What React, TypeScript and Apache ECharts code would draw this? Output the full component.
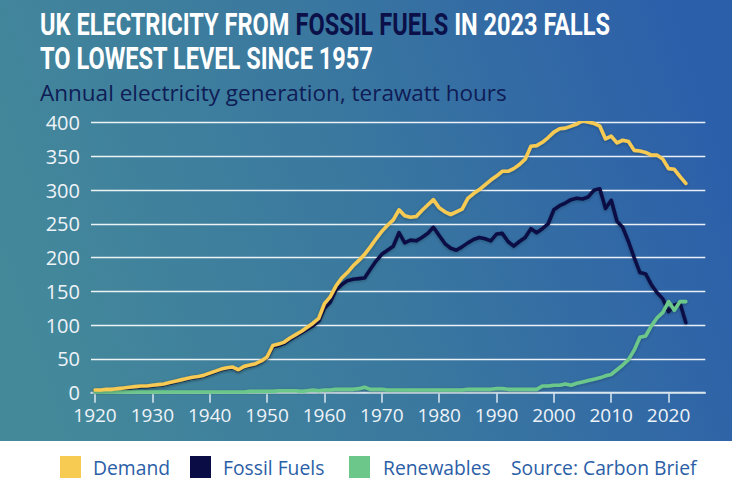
import React, { useEffect, useRef } from "react";
import * as echarts from "echarts";

// Annual UK electricity, TWh, one value per year starting in FIRST_YEAR
const FIRST_YEAR = 1920;

const demand = [
  4, 4, 5, 5, 6, 7, 8, 9, 10, 10, // 1920s
  11, 12, 13, 15, 17, 19, 21, 23, 24, 26, // 1930s
  29, 32, 35, 37, 38, 34, 39, 41, 43, 47, // 1940s
  53, 70, 72, 75, 81, 86, 91, 97, 103, 110, // 1950s
  132, 142, 158, 170, 178, 188, 196, 205, 216, 228, // 1960s
  239, 248, 256, 271, 262, 260, 261, 270, 278, 286, // 1970s
  274, 268, 264, 268, 272, 288, 295, 301, 308, 315, // 1980s
  321, 328, 328, 332, 338, 346, 365, 366, 371, 378, // 1990s
  386, 391, 392, 395, 398, 403, 401, 399, 395, 376, // 2000s
  380, 370, 374, 372, 359, 358, 356, 352, 352, 346, // 2010s
  332, 331, 320, 310, // 2020s
];

const fossilFuels = [
  3, 3, 4, 4, 5, 6, 7, 8, 9, 9,
  10, 11, 12, 14, 16, 18, 20, 22, 23, 25,
  28, 31, 34, 36, 37, 33, 38, 40, 42, 46,
  52, 68, 70, 73, 79, 84, 89, 94, 99, 106,
  125, 134, 152, 160, 166, 168, 169, 170, 183, 195,
  205, 211, 217, 237, 222, 226, 225, 230, 236, 245,
  233, 221, 214, 211, 216, 222, 227, 230, 228, 225,
  235, 236, 224, 217, 224, 230, 243, 237, 243, 250,
  271, 277, 281, 286, 288, 287, 290, 300, 302, 273,
  285, 254, 245, 224, 200, 178, 176, 160, 148, 139,
  120, 130, 132, 104,
];

const renewables = [
  1, 1, 1, 1, 1, 1, 1, 1, 1, 1,
  1, 1, 1, 1, 1, 1, 1, 1, 1, 1,
  1, 1, 1, 1, 1, 1, 1, 2, 2, 2,
  2, 2, 3, 3, 3, 3, 2, 3, 4, 3,
  4, 4, 5, 5, 5, 5, 6, 8, 5, 5,
  5, 4, 4, 4, 4, 4, 4, 4, 4, 4,
  4, 4, 4, 4, 4, 5, 5, 5, 5, 5,
  6, 6, 5, 5, 5, 5, 5, 5, 10, 10,
  11, 11, 13, 11, 14, 16, 18, 20, 22, 25,
  27, 34, 41, 49, 63, 82, 84, 99, 111, 119,
  135, 122, 135, 135,
];

const xTickYears = [1920, 1930, 1940, 1950, 1960, 1970, 1980, 1990, 2000, 2010, 2020];

const seriesNames = ["Demand", "Fossil Fuels", "Renewables"];
const seriesColors = ["#f7ca52", "#0a0d45", "#6cc78a"];

const TITLE_1_PARTS = ["UK ELECTRICITY FROM ", "FOSSIL FUELS", " IN 2023 FALLS"];
const TITLE_2 = "TO LOWEST LEVEL SINCE 1957";
const SUBTITLE = "Annual electricity generation, terawatt hours";
const SOURCE = "Source: Carbon Brief";

const toPairs = (values: number[]) => values.map((v, i) => [FIRST_YEAR + i, v]);

const TITLE_FONT = "Roboto";
const TITLE_SIZE = 32;
const BODY_FONT = "'Open Sans', 'Noto Sans', sans-serif";

function measure(text: string, font: string): number {
  const ctx = document.createElement("canvas").getContext("2d");
  if (!ctx) return text.length * 10;
  ctx.font = font;
  return ctx.measureText(text).width;
}

export default function App() {
  const ref = useRef<HTMLDivElement>(null);

  useEffect(() => {
    document.body.style.margin = "0";
    if (!ref.current) return;
    const chart = echarts.init(ref.current, null, { renderer: "svg" });

    // condensed headline: squeeze a bold face horizontally to the headline width
    const titleWidth = measure(TITLE_1_PARTS.join(""), `700 ${TITLE_SIZE}px ${TITLE_FONT}`);
    const titleScale = 570 / titleWidth;
    const tFont = { fontFamily: TITLE_FONT, fontSize: TITLE_SIZE, fontWeight: 700 };

    const line = (name: string, values: number[], color: string, z: number) => ({
      type: "line",
      name,
      data: toPairs(values),
      showSymbol: false,
      symbol: "none",
      silent: true,
      z,
      lineStyle: {
        width: 3.6,
        color,
        cap: "round",
        join: "round",
        shadowColor: "rgba(0,20,40,0.28)",
        shadowBlur: 3,
        shadowOffsetY: 1,
      },
      itemStyle: { color },
      emphasis: { disabled: true },
    });

    const legendItems = [
      { square: 60, text: 93, label: seriesNames[0], color: seriesColors[0] },
      { square: 190, text: 223, label: seriesNames[1], color: seriesColors[1] },
      { square: 349, text: 383, label: seriesNames[2], color: seriesColors[2] },
    ];

    const legendText = (x: number, text: string) => ({
      type: "text",
      x,
      y: 467,
      style: {
        text,
        fill: "#2b5ea7",
        fontFamily: BODY_FONT,
        fontSize: 19.3,
        verticalAlign: "middle",
      },
    });

    const legendGraphics: any[] = [];
    legendItems.forEach((it) => {
      legendGraphics.push({
        type: "rect",
        shape: { x: it.square, y: 456, width: 21, height: 22 },
        style: { fill: it.color },
      });
      legendGraphics.push(legendText(it.text, it.label));
    });
    legendGraphics.push(legendText(511, SOURCE));

    chart.setOption({
      animation: false,
      backgroundColor: "#ffffff",
      graphic: [
        {
          type: "rect",
          z: -10,
          shape: { x: 0, y: 0, width: 732, height: 441 },
          style: {
            fill: new echarts.graphic.LinearGradient(0, 0.6, 1, 0.4, [
              { offset: 0, color: "#44899a" },
              { offset: 0.5, color: "#3a789f" },
              { offset: 1, color: "#2c5faa" },
            ]),
          },
        },
        {
          type: "text",
          x: 40,
          y: 24,
          scaleX: titleScale,
          style: {
            text: `{w|${TITLE_1_PARTS[0]}}{n|${TITLE_1_PARTS[1]}}{w|${TITLE_1_PARTS[2]}}`,
            ...tFont,
            verticalAlign: "middle",
            rich: {
              w: { ...tFont, fill: "#ffffff" },
              n: { ...tFont, fill: "#0b1048" },
            },
          },
        },
        {
          type: "text",
          x: 40,
          y: 58,
          scaleX: titleScale,
          style: {
            text: TITLE_2,
            ...tFont,
            fill: "#ffffff",
            verticalAlign: "middle",
          },
        },
        {
          type: "text",
          x: 40,
          y: 92,
          style: {
            text: SUBTITLE,
            fill: "#0f1c55",
            fontFamily: BODY_FONT,
            fontSize: 22.5,
            verticalAlign: "middle",
          },
        },
        ...legendGraphics,
      ],
      grid: { left: 91, right: 26.7, top: 122.7, bottom: 99.3 },
      xAxis: {
        type: "value",
        min: 1919.3,
        max: 2026.4,
        splitLine: { show: false },
        axisLine: { show: true, lineStyle: { color: "#d3e2ec", width: 1.6 } },
        axisTick: {
          show: true,
          length: 10,
          customValues: xTickYears,
          lineStyle: { color: "#d3e2ec", width: 1.6 },
        },
        axisLabel: {
          customValues: xTickYears,
          formatter: (v: number) => String(Math.round(v)),
          margin: 13,
          color: "#eef3f8",
          fontFamily: BODY_FONT,
          fontSize: 19,
          lineHeight: 19,
        },
      },
      yAxis: {
        type: "value",
        min: 0,
        max: 400,
        interval: 50,
        axisLine: { show: false },
        axisTick: { show: false },
        axisLabel: {
          margin: 11,
          color: "#eef3f8",
          fontFamily: BODY_FONT,
          fontSize: 20,
          lineHeight: 18,
        },
        splitLine: { lineStyle: { color: "rgba(255,255,255,0.9)", width: 1.3 } },
      },
      series: [
        line(seriesNames[1], fossilFuels, seriesColors[1], 2),
        line(seriesNames[2], renewables, seriesColors[2], 3),
        line(seriesNames[0], demand, seriesColors[0], 4),
      ],
    });

    return () => chart.dispose();
  }, []);

  return (
    <div
      ref={ref}
      style={{ position: "fixed", left: 0, top: 0, width: 732, height: 492, background: "#ffffff" }}
    />
  );
}
